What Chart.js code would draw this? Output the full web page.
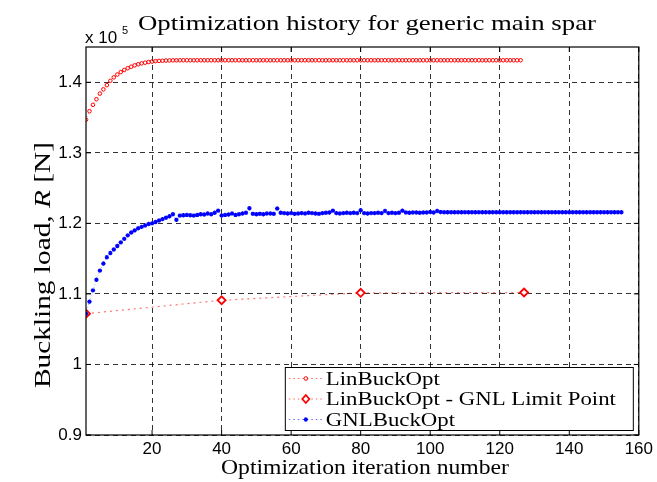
<!DOCTYPE html>
<html>
<head>
<meta charset="utf-8">
<script src="https://cdn.jsdelivr.net/npm/chart.js@4.4.0/dist/chart.umd.min.js"></script>
<style>
    html, body { margin: 0; padding: 0; background: #fff; }
    #chart { display: block; }
</style>
</head>
<body>
<canvas id="chart" width="657" height="482"></canvas>
<script>
// Achsen-Ticks (Lasten in Einheiten von 10^5 N)
const xTicks = [20, 40, 60, 80, 100, 120, 140, 160];
const yTicks = [0.9, 1.0, 1.1, 1.2, 1.3, 1.4];

// LinBuckOpt, Iteration 1..126
const linBuckOpt = [
    1.347, 1.359, 1.368, 1.376, 1.384, 1.390, 1.396, 1.402, 1.407, 1.411,
    1.4145, 1.4175, 1.420, 1.422, 1.424, 1.4255, 1.4268, 1.4278, 1.4287, 1.4294,
    1.430, 1.4303, 1.4305, 1.4308, 1.431, 1.4311, 1.4311, 1.4312, 1.4312, 1.4312,
    1.4312, 1.4312, 1.4312, 1.4312, 1.4312, 1.4312, 1.4312, 1.4312, 1.4312, 1.4312,
    1.4312, 1.4312, 1.4312, 1.4312, 1.4312, 1.4312, 1.4312, 1.4312, 1.4312, 1.4312,
    1.4312, 1.4312, 1.4312, 1.4312, 1.4312, 1.4312, 1.4312, 1.4312, 1.4312, 1.4312,
    1.4312, 1.4312, 1.4312, 1.4312, 1.4312, 1.4312, 1.4312, 1.4312, 1.4312, 1.4312,
    1.4312, 1.4312, 1.4312, 1.4312, 1.4312, 1.4312, 1.4312, 1.4312, 1.4312, 1.4312,
    1.4312, 1.4312, 1.4312, 1.4312, 1.4312, 1.4312, 1.4312, 1.4312, 1.4312, 1.4312,
    1.4312, 1.4312, 1.4312, 1.4312, 1.4312, 1.4312, 1.4312, 1.4312, 1.4312, 1.4312,
    1.4312, 1.4312, 1.4312, 1.4312, 1.4312, 1.4312, 1.4312, 1.4312, 1.4312, 1.4312,
    1.4312, 1.4312, 1.4312, 1.4312, 1.4312, 1.4312, 1.4312, 1.4312, 1.4312, 1.4312,
    1.4312, 1.4312, 1.4312, 1.4312, 1.4312, 1.4312
];

// LinBuckOpt - GNL Limit Point
const limitIterations = [1, 40, 80, 127];
const limitLoads = [1.072, 1.091, 1.1015, 1.102];

// GNLBuckOpt, Iteration 1..155
const gnlBuckOpt = [
    1.072, 1.089, 1.105, 1.120, 1.133, 1.143, 1.152, 1.158, 1.163, 1.168,
    1.173, 1.178, 1.183, 1.187, 1.190, 1.193, 1.195, 1.197, 1.199, 1.200,
    1.202, 1.204, 1.206, 1.208, 1.210, 1.213, 1.205, 1.211, 1.2115, 1.212,
    1.2115, 1.211, 1.212, 1.213, 1.2125, 1.214, 1.213, 1.215, 1.218, 1.211,
    1.212, 1.2125, 1.214, 1.212, 1.213, 1.214, 1.215, 1.2215, 1.2135, 1.213,
    1.2135, 1.213, 1.214, 1.214, 1.2135, 1.221, 1.215, 1.2145, 1.214, 1.2145,
    1.2135, 1.214, 1.2145, 1.214, 1.215, 1.2145, 1.214, 1.2135, 1.2145, 1.215,
    1.2155, 1.218, 1.2145, 1.214, 1.2145, 1.215, 1.2145, 1.215, 1.2145, 1.2185,
    1.2145, 1.214, 1.2145, 1.2145, 1.215, 1.2145, 1.2175, 1.2145, 1.215, 1.2145,
    1.215, 1.218, 1.2155, 1.215, 1.2155, 1.2155, 1.215, 1.2155, 1.2155, 1.216,
    1.2155, 1.2175, 1.216, 1.2158, 1.2158, 1.2158, 1.2158, 1.2158, 1.2158, 1.2158,
    1.2158, 1.2158, 1.2158, 1.2158, 1.2158, 1.2158, 1.2158, 1.2158, 1.2158, 1.2158,
    1.2158, 1.2158, 1.2158, 1.2158, 1.2158, 1.2158, 1.2158, 1.2158, 1.2158, 1.2158,
    1.2158, 1.2158, 1.2158, 1.2158, 1.2158, 1.2158, 1.2158, 1.2158, 1.2158, 1.2158,
    1.2158, 1.2158, 1.2158, 1.2158, 1.2158, 1.2158, 1.2158, 1.2158, 1.2158, 1.2158,
    1.2158, 1.2158, 1.2158, 1.2158, 1.2158
];

const SERIF = '"Liberation Serif", "Times New Roman", serif';
const SANS = '"Liberation Sans", Arial, sans-serif';

/**
 * Macht aus einer Werteliste Punkte mit Iterationsnummer (ab 1)
 */
function toPoints(values) {
    return values.map((v, i) => ({ x: i + 1, y: v }));
}

/**
 * Schreibt Text, horizontal gestreckt auf eine Zielbreite
 */
function fillFit(ctx, text, x, y, width, font) {
    ctx.save();
    ctx.font = font;
    const w = ctx.measureText(text).width;
    ctx.translate(x, y);
    ctx.scale(width / w, 1);
    ctx.textAlign = 'center';
    ctx.textBaseline = 'alphabetic';
    ctx.fillText(text, 0, 0);
    ctx.restore();
}

// Marker fuer die Legende
function drawMarker(ctx, kind, x, y) {
    ctx.save();
    ctx.setLineDash([]);
    if (kind === 'circle') {
        ctx.strokeStyle = '#ff0000';
        ctx.lineWidth = 1;
        ctx.beginPath();
        ctx.arc(x, y, 1.8, 0, Math.PI * 2);
        ctx.stroke();
    } else if (kind === 'diamond') {
        ctx.strokeStyle = '#ff0000';
        ctx.fillStyle = '#fff';
        ctx.lineWidth = 1.8;
        ctx.beginPath();
        ctx.moveTo(x, y - 4);
        ctx.lineTo(x + 3.5, y);
        ctx.lineTo(x, y + 4);
        ctx.lineTo(x - 3.5, y);
        ctx.closePath();
        ctx.fill();
        ctx.stroke();
    } else {
        ctx.strokeStyle = '#0000ff';
        ctx.lineWidth = 1.2;
        ctx.beginPath();
        for (let a = 0; a < 4; a++) {
            const ang = a * Math.PI / 4;
            ctx.moveTo(x - 2.2 * Math.cos(ang), y - 2.2 * Math.sin(ang));
            ctx.lineTo(x + 2.2 * Math.cos(ang), y + 2.2 * Math.sin(ang));
        }
        ctx.stroke();
    }
    ctx.restore();
}

const legendItems = [
    { text: 'LinBuckOpt', kind: 'circle', color: 'rgba(255,0,0,0.6)' },
    { text: 'LinBuckOpt - GNL Limit Point', kind: 'diamond', color: 'rgba(255,0,0,0.6)' },
    { text: 'GNLBuckOpt', kind: 'star', color: 'rgba(0,0,255,0.6)' }
];

// Rahmen, Ticks nach innen, Legende und Beschriftungen im MATLAB-Stil
const matlabFrame = {
    id: 'matlabFrame',
    afterDraw(chart) {
        const ctx = chart.ctx;
        const area = chart.chartArea;
        const xs = chart.scales.x;
        const ys = chart.scales.y;

        ctx.save();
        ctx.strokeStyle = '#000';
        ctx.lineWidth = 1.2;
        ctx.setLineDash([]);
        ctx.strokeRect(area.left, area.top, area.right - area.left, area.bottom - area.top);

        // Ticks innen an allen vier Seiten
        ctx.lineWidth = 1;
        ctx.beginPath();
        xTicks.forEach(v => {
            const px = xs.getPixelForValue(v);
            ctx.moveTo(px, area.bottom);
            ctx.lineTo(px, area.bottom - 5);
            ctx.moveTo(px, area.top);
            ctx.lineTo(px, area.top + 5);
        });
        yTicks.forEach(v => {
            const py = ys.getPixelForValue(v);
            ctx.moveTo(area.left, py);
            ctx.lineTo(area.left + 5, py);
            ctx.moveTo(area.right, py);
            ctx.lineTo(area.right - 5, py);
        });
        ctx.stroke();

        // Legende
        const boxRight = area.right - 6;
        const boxBottom = area.bottom - 5;
        const boxW = 348;
        const boxH = 63;
        const boxLeft = boxRight - boxW;
        const boxTop = boxBottom - boxH;
        ctx.fillStyle = '#fff';
        ctx.fillRect(boxLeft, boxTop, boxW, boxH);
        ctx.strokeStyle = '#000';
        ctx.lineWidth = 1;
        ctx.strokeRect(boxLeft + 0.5, boxTop + 0.5, boxW, boxH);

        legendItems.forEach((item, i) => {
            const cy = boxTop + 11.5 + i * 20.5;
            ctx.save();
            ctx.strokeStyle = item.color;
            ctx.lineWidth = 1;
            ctx.setLineDash([1.5, 3]);
            ctx.beginPath();
            ctx.moveTo(boxLeft + 4, cy);
            ctx.lineTo(boxLeft + 37, cy);
            ctx.stroke();
            ctx.restore();
            drawMarker(ctx, item.kind, boxLeft + 21, cy);

            ctx.save();
            ctx.fillStyle = '#000';
            ctx.font = '19px ' + SERIF;
            ctx.translate(boxLeft + 41, cy + 6);
            ctx.scale(1.2, 1);
            ctx.textAlign = 'left';
            ctx.fillText(item.text, 0, 0);
            ctx.restore();
        });

        // Titel und Achsenbeschriftungen
        ctx.fillStyle = '#000';
        fillFit(ctx, 'Optimization history for generic main spar', 367, 30, 458, '22px ' + SERIF);
        fillFit(ctx, 'Optimization iteration number', 365, 474, 288, '22px ' + SERIF);

        // y-Beschriftung mit kursivem R
        const parts = [
            { t: 'Buckling load, ', f: '23px ' + SERIF },
            { t: 'R', f: 'italic 23px ' + SERIF },
            { t: ' [N]', f: '23px ' + SERIF }
        ];
        let total = 0;
        parts.forEach(p => { ctx.font = p.f; p.w = ctx.measureText(p.t).width; total += p.w; });
        const target = 246;
        ctx.save();
        ctx.translate(50, 265);
        ctx.rotate(-Math.PI / 2);
        ctx.scale(target / total, 1);
        ctx.textAlign = 'left';
        let cx = -total / 2;
        parts.forEach(p => {
            ctx.font = p.f;
            ctx.fillText(p.t, cx, 0);
            cx += p.w;
        });
        ctx.restore();

        // Exponent-Faktor
        ctx.font = '17px ' + SANS;
        ctx.textAlign = 'left';
        ctx.fillText('x 10', 85, 43);
        ctx.font = '11px ' + SANS;
        ctx.fillText('5', 122, 34);
        ctx.restore();
    }
};

const gridStyle = {
    color: 'rgba(0,0,0,0.8)',
    lineWidth: 1,
    drawTicks: false
};

new Chart(document.getElementById('chart'), {
    type: 'scatter',
    data: {
        datasets: [
            {
                label: 'GNLBuckOpt',
                data: toPoints(gnlBuckOpt),
                showLine: true,
                borderColor: 'rgba(0,0,255,0.45)',
                borderWidth: 0.8,
                borderDash: [1, 2],
                pointStyle: 'star',
                pointRadius: 2.2,
                pointBorderWidth: 1.2,
                pointBorderColor: '#0000ff',
                pointBackgroundColor: '#0000ff',
                order: 0
            },
            {
                label: 'LinBuckOpt - GNL Limit Point',
                data: limitIterations.map((it, i) => ({ x: it, y: limitLoads[i] })),
                showLine: true,
                borderColor: 'rgba(255,0,0,0.55)',
                borderWidth: 1.2,
                borderDash: [2, 4],
                pointStyle: 'rectRot',
                pointRadius: 4,
                pointBorderWidth: 1.8,
                pointBorderColor: '#ff0000',
                pointBackgroundColor: '#ffffff',
                order: 1
            },
            {
                label: 'LinBuckOpt',
                data: toPoints(linBuckOpt),
                showLine: true,
                borderColor: 'rgba(255,0,0,0.4)',
                borderWidth: 0.8,
                borderDash: [1, 2],
                pointStyle: 'circle',
                pointRadius: 1.8,
                pointBorderWidth: 1,
                pointBorderColor: '#ff0000',
                pointBackgroundColor: 'rgba(255,255,255,0)',
                order: 2
            }
        ]
    },
    options: {
        responsive: false,
        animation: false,
        layout: { padding: { left: 0, top: 47, right: 17, bottom: 0 } },
        plugins: {
            legend: { display: false },
            title: { display: false },
            tooltip: { enabled: false }
        },
        scales: {
            x: {
                type: 'linear',
                min: 1,
                max: 160,
                afterBuildTicks: scale => { scale.ticks = xTicks.map(v => ({ value: v })); },
                afterFit: scale => { scale.height = 47; },
                grid: gridStyle,
                border: { display: false, dash: [5, 4] },
                ticks: {
                    padding: 4,
                    color: '#000',
                    font: { family: SANS, size: 17 },
                    maxRotation: 0,
                    callback: v => String(v)
                }
            },
            y: {
                type: 'linear',
                min: 0.9,
                max: 1.45,
                afterBuildTicks: scale => { scale.ticks = yTicks.map(v => ({ value: v })); },
                afterFit: scale => { scale.width = 86; },
                grid: gridStyle,
                border: { display: false, dash: [5, 4] },
                ticks: {
                    padding: 4,
                    color: '#000',
                    font: { family: SANS, size: 17 },
                    callback: v => String(+v.toFixed(1))
                }
            }
        }
    },
    plugins: [matlabFrame]
});
</script>
</body>
</html>
